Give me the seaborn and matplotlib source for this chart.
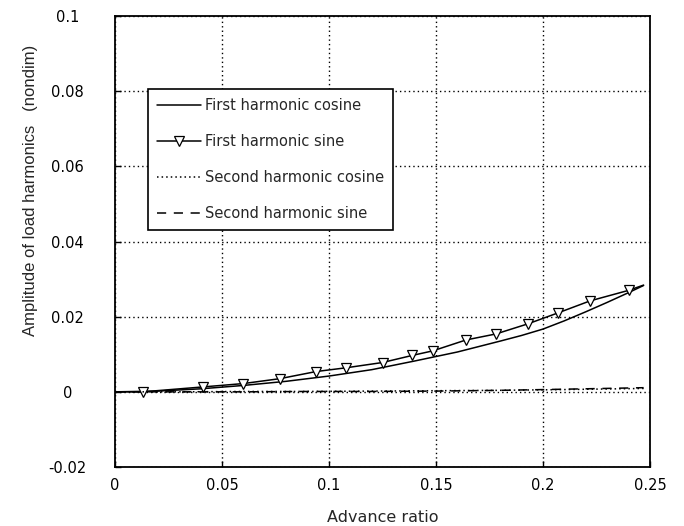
import matplotlib
matplotlib.use("Agg")
import matplotlib.pyplot as plt
import seaborn as sns

# Advance ratio samples and load-harmonic amplitudes (nondimensional)
mu_cos1 = [0.0, 0.02, 0.04, 0.06, 0.08, 0.10, 0.12, 0.14, 0.16, 0.18, 0.19, 0.20, 0.21, 0.22, 0.23, 0.24, 0.247]
cos1 = [0.0, 0.0002, 0.0008, 0.0017, 0.0028, 0.0042, 0.0059, 0.0082, 0.0106, 0.0135, 0.0150, 0.0167, 0.0189, 0.0213, 0.0238, 0.0264, 0.0283]

mu_sin1 = [0.0, 0.013, 0.041, 0.060, 0.077, 0.094, 0.108, 0.125, 0.139, 0.1485, 0.164, 0.178, 0.193, 0.207, 0.222, 0.240, 0.247]
sin1 = [0.0, 0.0000, 0.0013, 0.0022, 0.0035, 0.0054, 0.0064, 0.0078, 0.0097, 0.0109, 0.0138, 0.0154, 0.0181, 0.0210, 0.0242, 0.0270, 0.0284]

mu_2 = [0.0, 0.03, 0.06, 0.09, 0.12, 0.15, 0.18, 0.21, 0.247]
cos2 = [0.0, 0.0, 0.0001, 0.0001, 0.0002, 0.0003, 0.0004, 0.0006, 0.0009]
sin2 = [0.0, 0.0, 0.0, 0.0001, 0.0001, 0.0002, 0.0004, 0.0007, 0.0011]

x_ticks = [0, 0.05, 0.1, 0.15, 0.2, 0.25]
x_tick_labels = ["0", "0.05", "0.1", "0.15", "0.2", "0.25"]
y_ticks = [-0.02, 0, 0.02, 0.04, 0.06, 0.08, 0.1]
y_tick_labels = ["-0.02", "0", "0.02", "0.04", "0.06", "0.08", "0.1"]

sns.set_style("ticks")
plt.rcParams["font.family"] = ["DejaVu Sans"]

W, H = 684, 526
fig = plt.figure(figsize=(W / 100, H / 100), dpi=100)
ax = fig.add_axes([115 / W, 1 - 467 / H, 535 / W, 451 / H])

line_kw = dict(color="black", estimator=None, sort=False, ax=ax)
sns.lineplot(x=mu_cos1, y=cos1, lw=1.1, linestyle="-", label="First harmonic cosine", **line_kw)
sns.lineplot(x=mu_sin1, y=sin1, lw=1.1, linestyle="-", marker="v", markersize=7,
             markerfacecolor="white", markeredgecolor="black", markeredgewidth=0.9,
             markevery=list(range(1, len(mu_sin1) - 1)),
             label="First harmonic sine", **line_kw)
sns.lineplot(x=mu_2, y=cos2, lw=1.1, linestyle=(0, (1, 2)), label="Second harmonic cosine", **line_kw)
sns.lineplot(x=mu_2, y=sin2, lw=1.1, linestyle=(0, (6, 5)), label="Second harmonic sine", **line_kw)

ax.set_xlim(0, 0.25)
ax.set_ylim(-0.02, 0.1)
ax.set_xticks(x_ticks)
ax.set_xticklabels(x_tick_labels)
ax.set_yticks(y_ticks)
ax.set_yticklabels(y_tick_labels)
for t in ax.get_yticklabels():
    t.set_horizontalalignment("center")

ax.tick_params(axis="both", direction="in", length=4, width=1, colors="black", labelsize=10.5)
ax.tick_params(axis="y", pad=34)
ax.tick_params(axis="x", pad=8)

ax.grid(True, color="black", linestyle=(0, (1, 2.2)), linewidth=1.0)
for s in ax.spines.values():
    s.set_visible(True)
    s.set_color("black")
    s.set_linewidth(1.3)

ax.set_xlabel("Advance ratio", fontsize=11.5)
ax.xaxis.set_label_coords(0.5, -0.095)
ax.set_ylabel("Amplitude of load harmonics   (nondim)", fontsize=12, family=["Liberation Sans"])
ax.yaxis.set_label_coords(-0.144, 0.614)

leg = ax.legend(loc="upper left", bbox_to_anchor=((148 - 115) / 535, (467 - 89) / 451),
                borderaxespad=0, frameon=True, fancybox=False, framealpha=1,
                edgecolor="black", fontsize=10.5, handlelength=3.0, handletextpad=0.3,
                labelspacing=1.45, borderpad=0.6)
leg.get_frame().set_linewidth(1.2)

fig.savefig("out.png", dpi=100, facecolor="white")
